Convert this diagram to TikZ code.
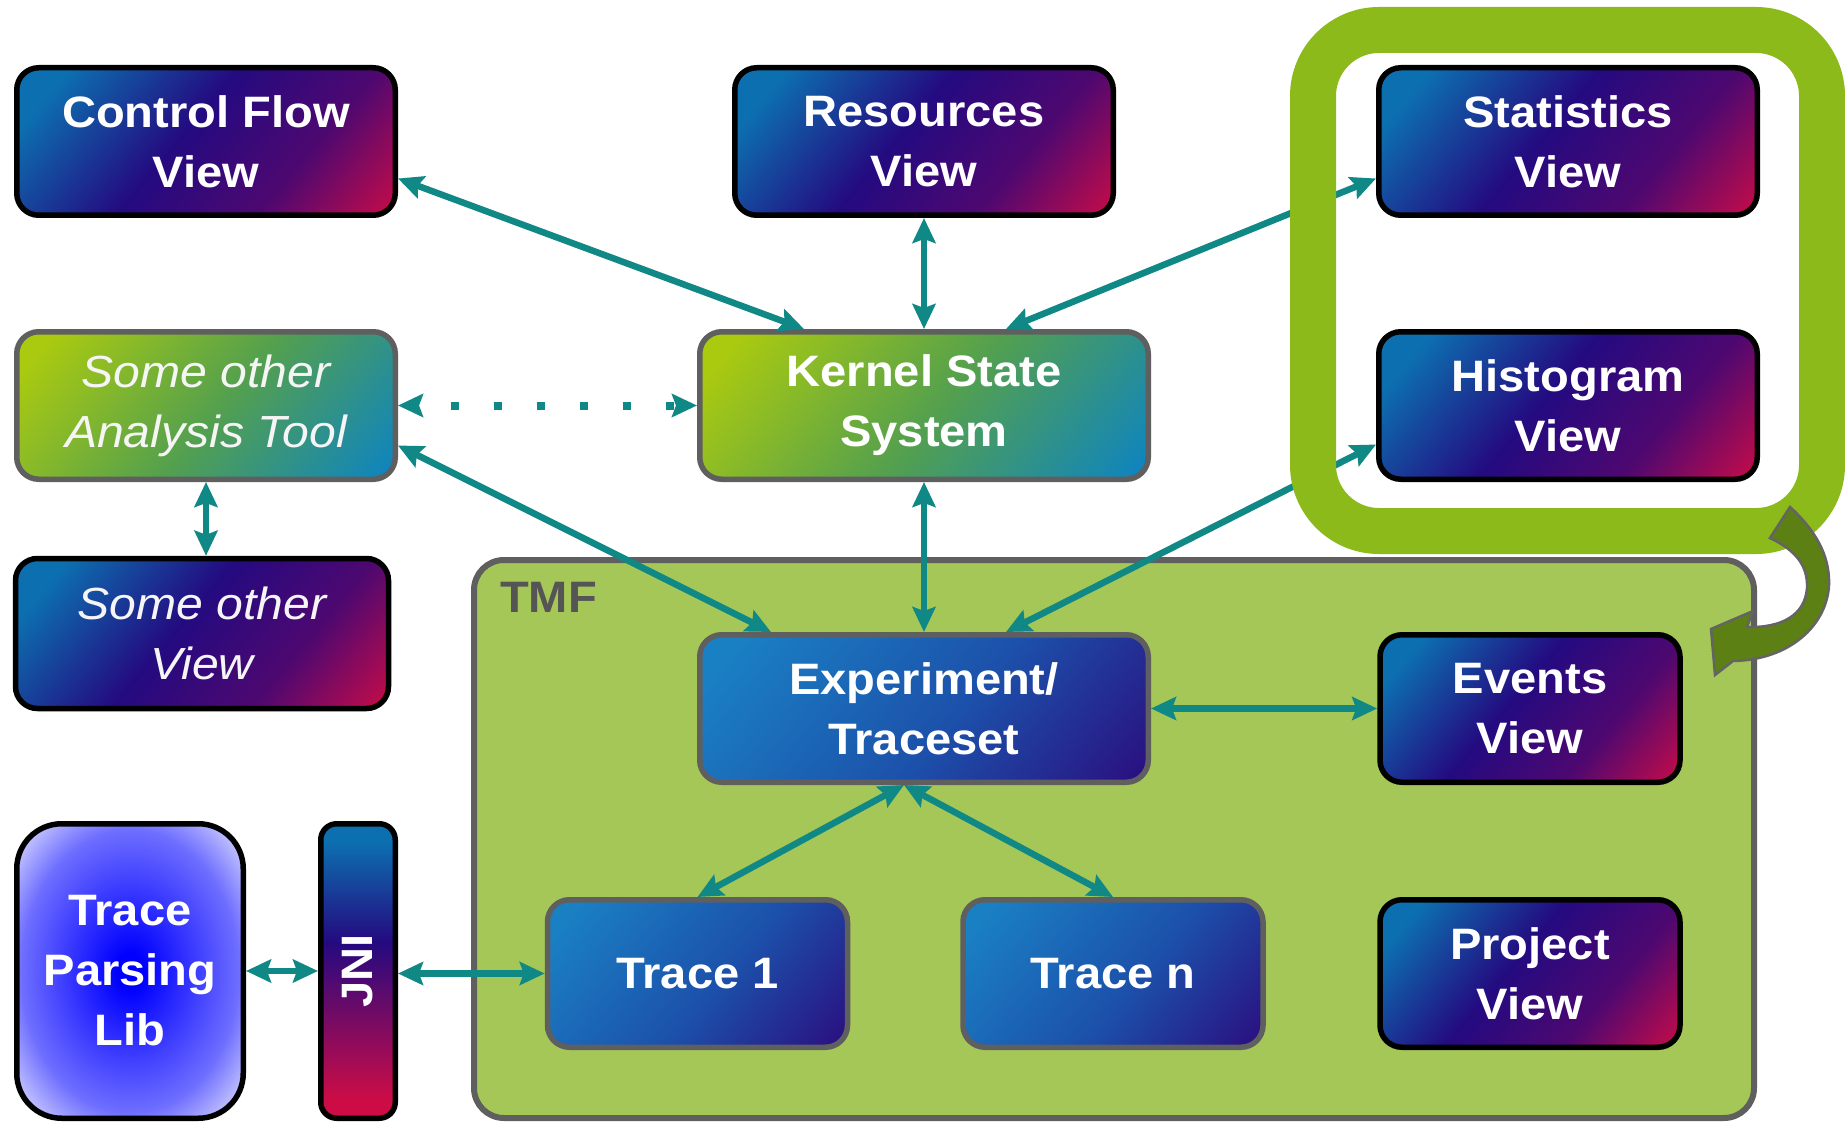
\documentclass[tikz,border=0pt]{standalone}
\usepackage{fontspec}
\usepackage{graphicx}
\setmainfont{Liberation Sans}[FakeStretch=1.07]
\usetikzlibrary{arrows.meta,calc}
\definecolor{vblue}{RGB}{12,112,176}
\definecolor{vindigo}{RGB}{36,10,128}
\definecolor{vpurple}{RGB}{78,8,112}
\definecolor{vcrim}{RGB}{205,12,70}
\definecolor{bblue}{RGB}{26,128,196}
\definecolor{bmid}{RGB}{28,80,170}
\definecolor{bindigo}{RGB}{42,16,128}
\definecolor{gyel}{RGB}{170,202,16}
\definecolor{gmid}{RGB}{84,160,78}
\definecolor{gblue}{RGB}{14,132,192}
\definecolor{tealc}{RGB}{15,136,134}
\definecolor{tmfgreen}{RGB}{165,199,88}
\definecolor{bordergray}{RGB}{95,95,95}
\definecolor{tmflabel}{RGB}{85,85,85}
\definecolor{hlgreen}{RGB}{139,186,26}
\definecolor{arrowolive}{RGB}{92,128,20}
\definecolor{arrowedge}{RGB}{100,100,100}
\definecolor{tplblue}{RGB}{0,0,255}
\definecolor{tplmid}{RGB}{110,110,255}
\definecolor{tplout}{RGB}{218,218,255}
\pgfdeclarehorizontalshading{viewsh}{100bp}{color(0bp)=(vblue); color(22bp)=(vblue); color(46bp)=(vindigo); color(66bp)=(vpurple); color(86bp)=(vcrim); color(100bp)=(vcrim)}
\pgfdeclarehorizontalshading{bluesh}{100bp}{color(0bp)=(bblue); color(20bp)=(bblue); color(55bp)=(bmid); color(84bp)=(bindigo); color(100bp)=(bindigo)}
\pgfdeclarehorizontalshading{greensh}{100bp}{color(0bp)=(gyel); color(20bp)=(gyel); color(52bp)=(gmid); color(84bp)=(gblue); color(100bp)=(gblue)}
\pgfdeclareverticalshading{jnish}{100bp}{color(0bp)=(vcrim); color(28bp)=(vcrim); color(55bp)=(vindigo); color(72bp)=(vblue); color(100bp)=(vblue)}
\pgfdeclareradialshading{tplsh}{\pgfpoint{0bp}{0bp}}{color(0bp)=(tplblue); color(3bp)=(tplblue); color(24bp)=(tplmid); color(34bp)=(tplout); color(50bp)=(tplout)}
\tikzset{
  box/.style={rounded corners=22pt, line width=5.5pt, text=white, align=center,
    font=\fontsize{44}{60}\selectfont\bfseries, inner sep=0pt},
  viewbox/.style={box, draw=black, shade, shading=viewsh, shading angle=-40},
  bluebox/.style={box, draw=bordergray, shade, shading=bluesh, shading angle=-40},
  greenbox/.style={box, draw=bordergray, shade, shading=greensh, shading angle=-40},
  itext/.style={font=\fontsize{45}{60}\selectfont\itshape, text=white!96!black},
  wide/.style={minimum width=378.5pt, minimum height=147.5pt},
  kwide/.style={minimum width=448.5pt, minimum height=147.5pt},
  narrow/.style={minimum width=300pt, minimum height=147.5pt},
  tip/.tip={Stealth[length=25pt,width=23pt,inset=4pt]},
  conn/.style={tealc, line width=6.5pt, tip-tip},
  dotconn/.style={tealc, line width=8pt, tip-tip, dash pattern=on 8pt off 35pt, dash phase=10pt},
}
\begin{document}
\begin{tikzpicture}[x=1pt,y=-1pt]
\fill[white] (0,0) rectangle (1845,1126);
\useasboundingbox (0,0) rectangle (1845,1126);

% TMF container
\node[draw=bordergray, line width=6pt, fill=tmfgreen, rounded corners=30pt,
      minimum width=1280pt, minimum height=558pt, inner sep=0pt] (tmf) at (1114,839) {};
\node[anchor=base west, text=tmflabel, font=\fontsize{44}{60}\selectfont\bfseries, inner sep=0pt]
      (tmflbl) at ($(tmf.north west)+(29,55)$) {TMF};

% top row
\node[viewbox, wide] (cfv) at (206,141.5) {Control Flow\\View};
\node[viewbox, wide] (res) at (924,141.5) {Resources\\View};
\node[viewbox, wide] (stat) at (1568,141.5) {Statistics\\View};

% second row
\node[greenbox, wide, itext] (osat) at (206,405.5) {Some other\\Analysis Tool};
\node[greenbox, kwide] (kss) at (924,405.5) {Kernel State\\System};
\node[viewbox, wide] (hist) at (1568,405.5) {Histogram\\View};

% third row
\node[viewbox, minimum width=373pt, minimum height=150pt, itext] (sov) at (202,633.5) {Some other\\View};
\node[bluebox, kwide] (exp) at (924,708.5) {Experiment/\\Traceset};
\node[viewbox, narrow] (evt) at (1530,708.5) {Events\\View};

% bottom row
\node[bluebox, narrow] (tr1) at (697.5,973.5) {Trace 1};
\node[bluebox, narrow] (trn) at (1113,973.5) {Trace n};
\node[viewbox, narrow] (prj) at (1530,973.5) {Project\\View};

\node[box, draw=black, shade, shading=tplsh, rounded corners=45pt,
      minimum width=226.5pt, minimum height=294.5pt] (tpl) at (130,971) {Trace\\Parsing\\Lib};
\node[box, draw=black, shade, shading=jnish, rounded corners=16pt,
      minimum width=74.5pt, minimum height=294.5pt] (jni) at (358,971) {\rotatebox{90}{JNI}};

% connectors
\draw[conn] ($(cfv.east)+(0,37)$) -- ($(kss.north)+(-120,0)$);
\draw[conn] (res.south) -- (kss.north);
\draw[conn] ($(kss.north)+(82,0)$) -- ($(stat.west)+(0,37)$);
\draw[dotconn] (osat.east) -- (kss.west);
\draw[conn] ($(osat.east)+(0,40)$) -- ($(exp.north)+(-153,0)$);
\draw[conn] (kss.south) -- (exp.north);
\draw[conn] ($(exp.north)+(82,0)$) -- ($(hist.west)+(0,39)$);
\draw[conn] (osat.south) -- (osat.south |- sov.north);
\draw[conn] (exp.east) -- (evt.west);
\coordinate (apex) at ($(exp.south)+(-20,0)$);
\draw[conn] (apex) -- (tr1.north);
\draw[conn] (apex) -- (trn.north);
\draw[conn] (tpl.east) -- (tpl.east -| jni.west);
\draw[conn] (jni.east |- tr1.west) -- (tr1.west);

% highlight frame
\draw[hlgreen, line width=46pt, rounded corners=66pt] (1313,30) rectangle (1822,531);

% curved block arrow
\filldraw[fill=arrowolive, draw=arrowedge, line width=2.5pt, line join=miter]
  (1790,507) .. controls (1815,530) and (1830,555) .. (1829,585)
  .. controls (1827,625) and (1790,660) .. (1733,661)
  -- (1715,675) -- (1711,629) -- (1753,611) -- (1747,627)
  .. controls (1782,628) and (1805,615) .. (1807,588)
  .. controls (1808,565) and (1795,550) .. (1770,538) -- cycle;
\end{tikzpicture}
\end{document}
